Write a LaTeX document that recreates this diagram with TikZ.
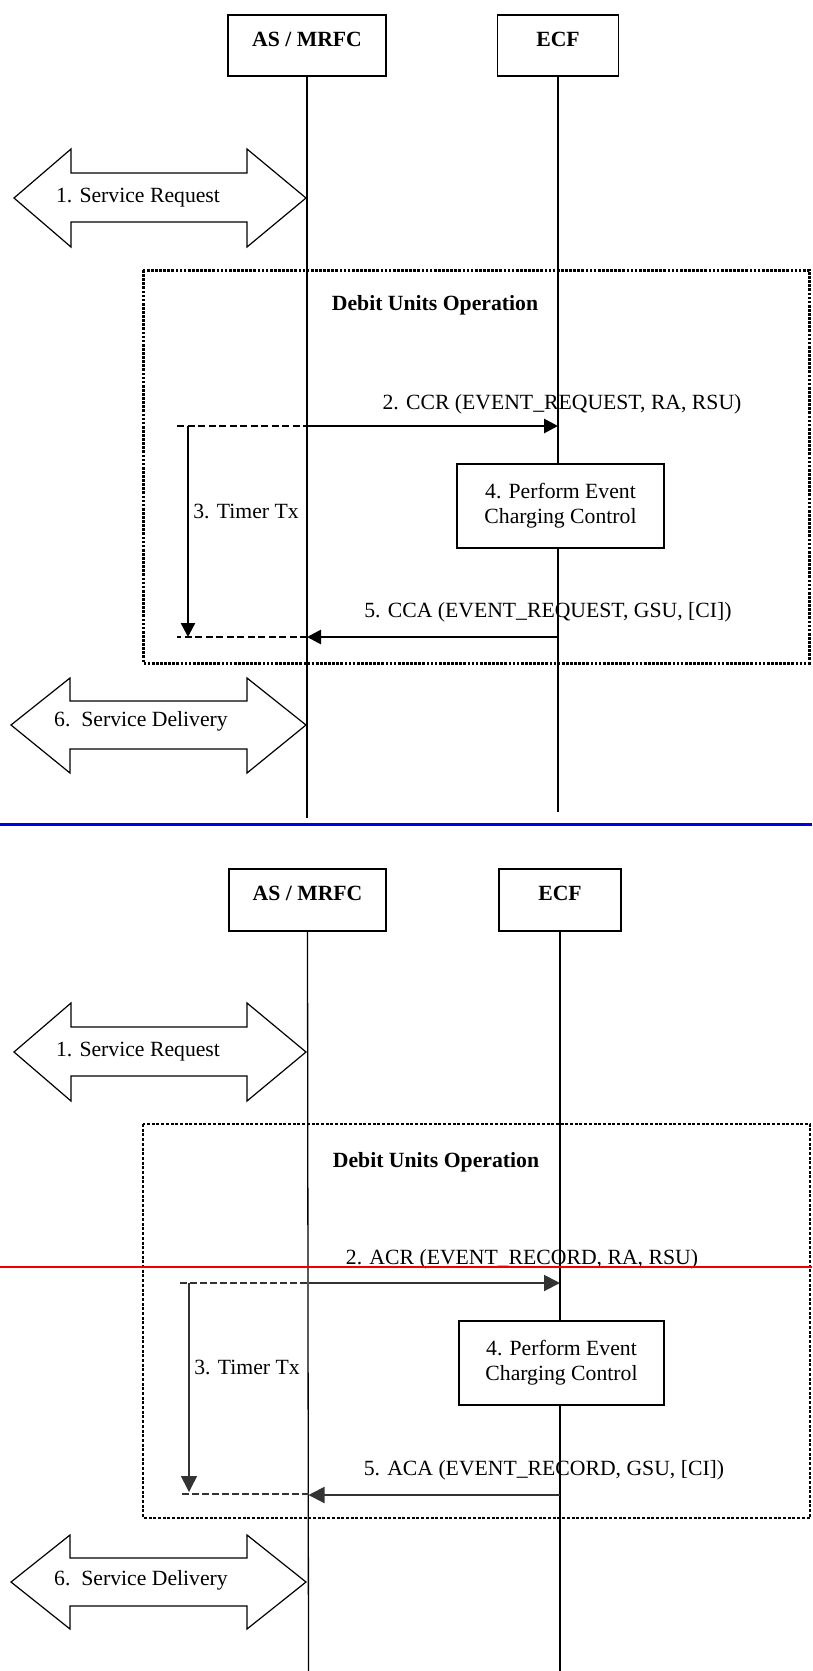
\documentclass[tikz,border=0pt]{standalone}
\usepackage{fontspec}
\setmainfont{Liberation Serif}
\usetikzlibrary{arrows.meta}

\begin{document}
\begin{tikzpicture}[
  x=1pt, y=-1pt,
  font=\fontsize{21.7}{25}\selectfont, >={Triangle[length=14pt,width=14pt]},
  party/.style={draw, line width=1.3pt, font=\fontsize{21.7}{25}\selectfont\bfseries,
                text height=15pt, text depth=14pt, minimum height=61pt},
  life/.style={line width=1.3pt},
  proc/.style={draw, fill=white, line width=1.3pt, align=center, minimum width=207pt, minimum height=84pt},
  txt/.style={inner sep=0pt},
  hdr/.style={inner sep=0pt, font=\fontsize{21.7}{25}\selectfont\bfseries},
  frameA/.style={line width=3pt, dash pattern=on 2.7pt off 1.4pt},
  frameB/.style={line width=2.4pt, dash pattern=on 3pt off 1.7pt},
  msgA/.style={line width=2.8pt},
  msgB/.style={line width=2pt, black!80, >={Triangle[length=16pt,width=16pt]}},
  waitA/.style={line width=2.5pt, dash pattern=on 7pt off 3.5pt},
  waitB/.style={line width=1.6pt, black!80, dash pattern=on 6.5pt off 3.5pt},
  dbl/.style={line width=1.2pt},
]
\useasboundingbox (0,0) rectangle (812,1671);

% ---- credit control flow ----
\node[party, minimum width=158pt] (asA)  at (307,45.5) {AS / MRFC};
\node[party, minimum width=121pt] (ecfA) at (558,45.5) {ECF};
\coordinate (asAend)  at (307,818);
\coordinate (ecfAend) at (558,812);
\draw[life] (asA.south) -- (asAend);
\draw[life] (ecfA.south) -- (ecfAend);

\draw[dbl] (14,198) -- (71,149) -- (71,173) -- (247,173) -- (247,149) -- (306,198)
  -- (247,247) -- (247,222) -- (71,222) -- (71,247) -- cycle;
\node[txt] (reqA) at (138,198) {1. Service Request};

\draw[frameA] (143,270) rectangle (809,663);
\node[hdr] (debA) at (435,305) {Debit Units Operation};

\coordinate (ccrS) at (177,426);
\coordinate (ccrM) at (307,426);
\coordinate (ccrE) at (558,426);
\node[txt] (ccr) at (562,404) {2. CCR (EVENT\_REQUEST, RA, RSU)};
\draw[waitA] (ccrS) -- (ccrM);
\draw[msgA,->] (ccrM) -- (ccrE);

\coordinate (txA) at (188,637);
\draw[msgA,line width=2.4pt,->] (ccrS -| txA) -- (txA);
\node[txt] (timA) at (246,511) {3. Timer Tx};

\node[proc] (ctlA) at (560.5,506) {4. Perform Event\\Charging Control};

\coordinate (ccaS) at (558,637);
\coordinate (ccaM) at (307,637);
\coordinate (ccaE) at (177,637);
\node[txt] (cca) at (548,612) {5. CCA (EVENT\_REQUEST, GSU, [CI])};
\draw[msgA,->] (ccaS) -- (ccaM);
\draw[waitA] (ccaM) -- (ccaE);

\draw[dbl] (11,725) -- (70,678) -- (70,701) -- (247,701) -- (247,678) -- (306,725)
  -- (247,773) -- (247,749) -- (70,749) -- (70,773) -- cycle;
\node[txt] (dlvA) at (141,721) {6.\ \ Service Delivery};

\draw[line width=3pt, blue!90!black] (0,824) -- (812,824);

% ---- offline charging flow ----
\node[party, minimum width=157pt, minimum height=62pt] (asB)  at (307.5,900) {AS / MRFC};
\node[party, minimum width=122pt, minimum height=62pt] (ecfB) at (560,900) {ECF};
\coordinate (asBend)  at (308.5,1671);
\coordinate (ecfBend) at (560,1671);
\draw[life] (asB.south) -- (asBend);
\draw[life] (ecfB.south) -- (ecfBend);

\draw[dbl] (14,1052) -- (71,1003) -- (71,1027) -- (247,1027) -- (247,1003) -- (306,1052)
  -- (247,1101) -- (247,1076) -- (71,1076) -- (71,1101) -- cycle;
\node[txt] (reqB) at (138,1052) {1. Service Request};

\draw[frameB] (143,1124) rectangle (810,1518);
\node[hdr] (debB) at (436,1162) {Debit Units Operation};

\coordinate (acrS) at (180,1283);
\coordinate (acrM) at (308.5,1283);
\coordinate (acrE) at (560,1283);
\node[txt] (acr) at (522,1259) {2. ACR (EVENT\_RECORD, RA, RSU)};
\draw[waitB] (acrS) -- (acrM);
\draw[msgB,->] (acrM) -- (acrE);

\coordinate (txB) at (189,1492);
\draw[msgB,line width=1.5pt,->] (acrS -| txB) -- (txB);
\node[txt] (timB) at (247,1367) {3. Timer Tx};

\node[proc, minimum width=205pt] (ctlB) at (561.5,1363) {4. Perform Event\\Charging Control};

\coordinate (acaS) at (560,1495);
\coordinate (acaM) at (308.5,1495);
\coordinate (acaE) at (180,1494);
\node[txt] (aca) at (544,1470) {5. ACA (EVENT\_RECORD, GSU, [CI])};
\draw[msgB,->] (acaS) -- (acaM);
\draw[waitB] (acaM |- acaE) -- (acaE);

\draw[dbl] (11,1582) -- (70,1535) -- (70,1558) -- (247,1558) -- (247,1535) -- (306,1582)
  -- (247,1629) -- (247,1606) -- (70,1606) -- (70,1629) -- cycle;
\node[txt] (dlvB) at (141,1580) {6.\ \ Service Delivery};

\draw[line width=2pt, red!95!black] (0,1267) -- (812,1267);
\end{tikzpicture}
\end{document}
